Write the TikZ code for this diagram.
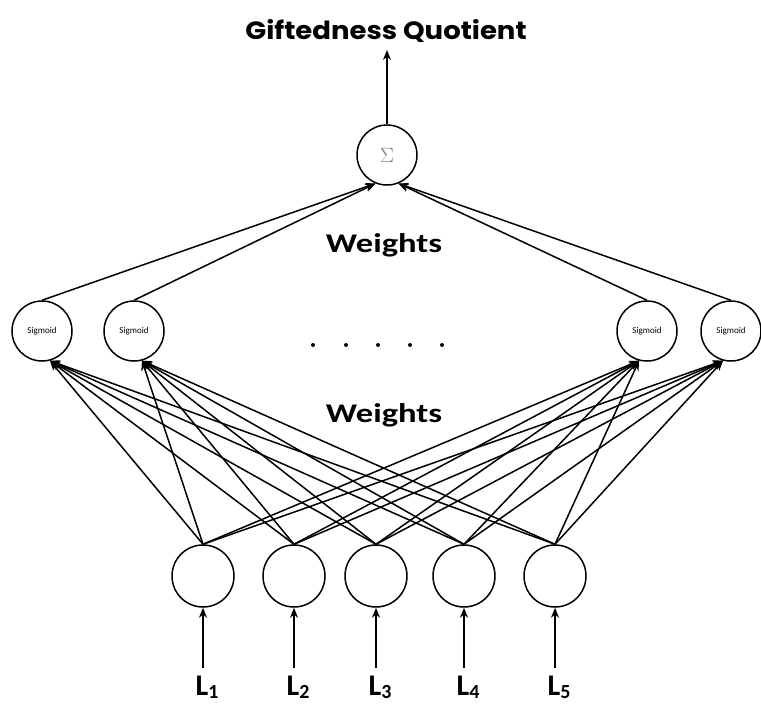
\documentclass[tikz,border=0pt]{standalone}
\usepackage{fontspec}
\setmainfont{Carlito}
\newfontfamily\titlefont{Poppins}
\usetikzlibrary{arrows.meta}
\begin{document}
\begin{tikzpicture}[x=1pt,y=-1pt,
  neuron/.style={circle,draw,line width=1.5pt,minimum size=60pt,inner sep=0pt},
  conn/.style={line width=1.5pt,-{Stealth[length=10pt,width=8pt]}},
  lbl/.style={font=\bfseries\fontsize{27}{29}\selectfont,inner sep=0pt},
  inlbl/.style={font=\bfseries\fontsize{30}{32}\selectfont,inner sep=0pt,anchor=base}]
\useasboundingbox (0,0) rectangle (761,704);
% title
\node[inner sep=0pt,font=\titlefont\bfseries\fontsize{25}{28}\selectfont] (title) at (386,31) {\scalebox{1.1}[1]{Giftedness Quotient}};
% sum node
\node[neuron,font=\fontsize{20}{22}\selectfont] (sum) at (387,155) {\textcolor{gray}{$\Sigma$}};
\coordinate (out) at (387,50);
% sigmoid nodes
\foreach \n/\x in {1/42,2/134,3/647,4/731}{
  \node[neuron,font=\fontsize{9}{10}\selectfont] (s\n) at (\x,331) {Sigmoid};
}
% dots
\foreach \i/\x in {1/313,2/346,3/378,4/410,5/442}{
  \node[circle,fill,inner sep=0pt,minimum size=4pt] (d\i) at (\x,345) {};
}
% input nodes
\foreach \n/\x in {1/203,2/294,3/376,4/464,5/555}{
  \node[neuron,minimum size=62pt] (i\n) at (\x,576) {};
  \coordinate (c\n) at (\x,668);
  \node[inlbl] (L\n) at (\x+4,695) {L\raisebox{-3pt}{\fontsize{20}{22}\selectfont\bfseries\n}};
  \draw[conn] (c\n) -- (i\n.south);
}
% weights labels
\node[lbl] (w1) at (384,245) {\scalebox{1.28}[1]{Weights}};
\node[lbl] (w2) at (384,415) {\scalebox{1.28}[1]{Weights}};
% output arrow
\draw[conn] (sum.north) -- (out);
% sigmoid to sum
\draw[conn] (s1.north) -- (sum.-112);
\draw[conn] (s2.north) -- (sum.-112);
\draw[conn] (s3.north) -- (sum.-68);
\draw[conn] (s4.north) -- (sum.-68);
% inputs to sigmoids
\foreach \i in {1,...,5}{
  \draw[conn] (i\i.north) -- (s1.-75);
  \draw[conn] (i\i.north) -- (s2.-75);
  \draw[conn] (i\i.north) -- (s3.-105);
  \draw[conn] (i\i.north) -- (s4.-105);
}
\end{tikzpicture}
\end{document}
